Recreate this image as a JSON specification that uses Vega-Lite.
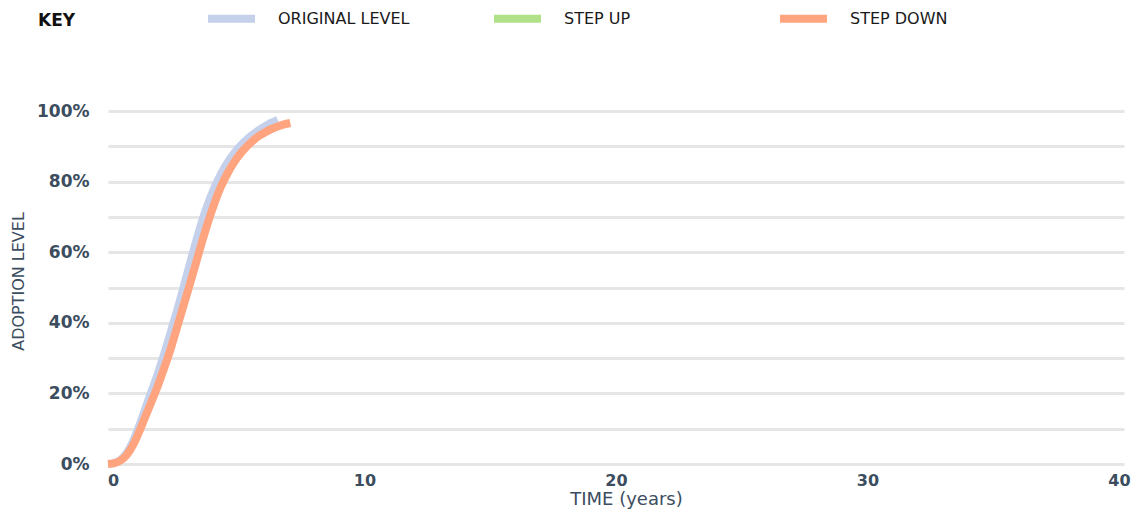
{
  "$schema": "https://vega.github.io/schema/vega-lite/v6.json",
  "width": 1016,
  "height": 353,
  "autosize": "none",
  "padding": {"left": 108, "top": 111, "right": 7, "bottom": 54},
  "background": "white",
  "config": {"view": {"stroke": null}},
  "data": {
    "values": [
      {"t": 0, "level": 0, "series": "ORIGINAL LEVEL"},
      {"t": 0.25, "level": 0.003, "series": "ORIGINAL LEVEL"},
      {"t": 0.5, "level": 0.012, "series": "ORIGINAL LEVEL"},
      {"t": 0.75, "level": 0.032, "series": "ORIGINAL LEVEL"},
      {"t": 1.0, "level": 0.065, "series": "ORIGINAL LEVEL"},
      {"t": 1.25, "level": 0.11, "series": "ORIGINAL LEVEL"},
      {"t": 1.5, "level": 0.16, "series": "ORIGINAL LEVEL"},
      {"t": 1.75, "level": 0.21, "series": "ORIGINAL LEVEL"},
      {"t": 2.0, "level": 0.26, "series": "ORIGINAL LEVEL"},
      {"t": 2.25, "level": 0.315, "series": "ORIGINAL LEVEL"},
      {"t": 2.5, "level": 0.375, "series": "ORIGINAL LEVEL"},
      {"t": 2.75, "level": 0.435, "series": "ORIGINAL LEVEL"},
      {"t": 3.0, "level": 0.5, "series": "ORIGINAL LEVEL"},
      {"t": 3.25, "level": 0.565, "series": "ORIGINAL LEVEL"},
      {"t": 3.5, "level": 0.63, "series": "ORIGINAL LEVEL"},
      {"t": 3.75, "level": 0.69, "series": "ORIGINAL LEVEL"},
      {"t": 4.0, "level": 0.742, "series": "ORIGINAL LEVEL"},
      {"t": 4.25, "level": 0.786, "series": "ORIGINAL LEVEL"},
      {"t": 4.5, "level": 0.823, "series": "ORIGINAL LEVEL"},
      {"t": 4.75, "level": 0.854, "series": "ORIGINAL LEVEL"},
      {"t": 5.0, "level": 0.879, "series": "ORIGINAL LEVEL"},
      {"t": 5.25, "level": 0.9, "series": "ORIGINAL LEVEL"},
      {"t": 5.5, "level": 0.918, "series": "ORIGINAL LEVEL"},
      {"t": 5.75, "level": 0.933, "series": "ORIGINAL LEVEL"},
      {"t": 6.0, "level": 0.946, "series": "ORIGINAL LEVEL"},
      {"t": 6.25, "level": 0.957, "series": "ORIGINAL LEVEL"},
      {"t": 6.5, "level": 0.967, "series": "ORIGINAL LEVEL"},
      {"t": 6.75, "level": 0.975, "series": "ORIGINAL LEVEL"},
      {"t": 0, "level": 0, "series": "STEP DOWN"},
      {"t": 0.25, "level": 0.0025, "series": "STEP DOWN"},
      {"t": 0.5, "level": 0.01, "series": "STEP DOWN"},
      {"t": 0.75, "level": 0.026, "series": "STEP DOWN"},
      {"t": 1.0, "level": 0.054, "series": "STEP DOWN"},
      {"t": 1.25, "level": 0.093, "series": "STEP DOWN"},
      {"t": 1.5, "level": 0.137, "series": "STEP DOWN"},
      {"t": 1.75, "level": 0.18, "series": "STEP DOWN"},
      {"t": 2.0, "level": 0.225, "series": "STEP DOWN"},
      {"t": 2.25, "level": 0.275, "series": "STEP DOWN"},
      {"t": 2.5, "level": 0.328, "series": "STEP DOWN"},
      {"t": 2.75, "level": 0.388, "series": "STEP DOWN"},
      {"t": 3.0, "level": 0.448, "series": "STEP DOWN"},
      {"t": 3.25, "level": 0.508, "series": "STEP DOWN"},
      {"t": 3.5, "level": 0.57, "series": "STEP DOWN"},
      {"t": 3.75, "level": 0.632, "series": "STEP DOWN"},
      {"t": 4.0, "level": 0.69, "series": "STEP DOWN"},
      {"t": 4.25, "level": 0.742, "series": "STEP DOWN"},
      {"t": 4.5, "level": 0.787, "series": "STEP DOWN"},
      {"t": 4.75, "level": 0.823, "series": "STEP DOWN"},
      {"t": 5.0, "level": 0.853, "series": "STEP DOWN"},
      {"t": 5.25, "level": 0.878, "series": "STEP DOWN"},
      {"t": 5.5, "level": 0.898, "series": "STEP DOWN"},
      {"t": 5.75, "level": 0.915, "series": "STEP DOWN"},
      {"t": 6.0, "level": 0.929, "series": "STEP DOWN"},
      {"t": 6.25, "level": 0.94, "series": "STEP DOWN"},
      {"t": 6.5, "level": 0.949, "series": "STEP DOWN"},
      {"t": 6.75, "level": 0.956, "series": "STEP DOWN"},
      {"t": 7.0, "level": 0.962, "series": "STEP DOWN"},
      {"t": 7.25, "level": 0.966, "series": "STEP DOWN"}
    ]
  },
  "mark": {"type": "line", "strokeWidth": 8, "interpolate": "monotone", "strokeCap": "butt"},
  "encoding": {
    "x": {
      "field": "t",
      "type": "quantitative",
      "scale": {"domain": [0, 40.4], "nice": false, "zero": false},
      "axis": {
        "values": [0, 10, 20, 30, 40],
        "title": "TIME (years)",
        "titleFont": "DejaVu Sans",
        "titleFontSize": 18,
        "titleFontWeight": "normal",
        "titleColor": "#3b4d5e",
        "titlePadding": 2,
        "titleX": 518,
        "grid": false,
        "domain": false,
        "ticks": false,
        "labelFont": "DejaVu Sans",
        "labelFontSize": 16,
        "labelFontWeight": "bold",
        "labelColor": "#3b4d5e",
        "labelPadding": 8,
        "labelOffset": 5,
        "labelFlush": false,
        "labelOverlap": false,
        "labelBound": false
      }
    },
    "y": {
      "field": "level",
      "type": "quantitative",
      "scale": {"domain": [0, 1], "nice": false},
      "axis": {
        "values": [0, 0.1, 0.2, 0.3, 0.4, 0.5, 0.6, 0.7, 0.8, 0.9, 1],
        "format": ".0%",
        "labelExpr": "round(datum.value*10)%2==0 ? datum.label : ''",
        "title": "ADOPTION LEVEL",
        "titleFont": "DejaVu Sans",
        "titleFontSize": 16,
        "titleFontWeight": "normal",
        "titleColor": "#3b4d5e",
        "titlePadding": 10,
        "titleY": 170,
        "grid": true,
        "gridColor": "#e6e6e6",
        "gridWidth": 3,
        "domain": false,
        "ticks": false,
        "labelFont": "DejaVu Sans",
        "labelFontSize": 17,
        "labelFontWeight": "bold",
        "labelColor": "#3b4d5e",
        "labelPadding": 19
      }
    },
    "color": {
      "field": "series",
      "type": "nominal",
      "sort": ["ORIGINAL LEVEL", "STEP UP", "STEP DOWN"],
      "scale": {
        "domain": ["ORIGINAL LEVEL", "STEP UP", "STEP DOWN"],
        "range": ["#c5d0ea", "#b0e087", "#ffa47f"]
      },
      "legend": {
        "orient": "none",
        "legendX": -70,
        "legendY": -120,
        "direction": "horizontal",
        "title": "KEY",
        "titleOrient": "left",
        "titleFont": "DejaVu Sans",
        "titleFontSize": 17,
        "titleFontWeight": "bold",
        "titleColor": "#111111",
        "titlePadding": 128,
        "titleBaseline": "top",
        "symbolType": "stroke",
        "symbolSize": 2209,
        "symbolStrokeWidth": 8,
        "symbolOpacity": 1,
        "labelFont": "DejaVu Sans",
        "labelFontSize": 16,
        "labelColor": "#1a1a1a",
        "labelOffset": 19,
        "gridAlign": "all",
        "columnPadding": 68,
        "labelLimit": 300
      }
    }
  }
}
